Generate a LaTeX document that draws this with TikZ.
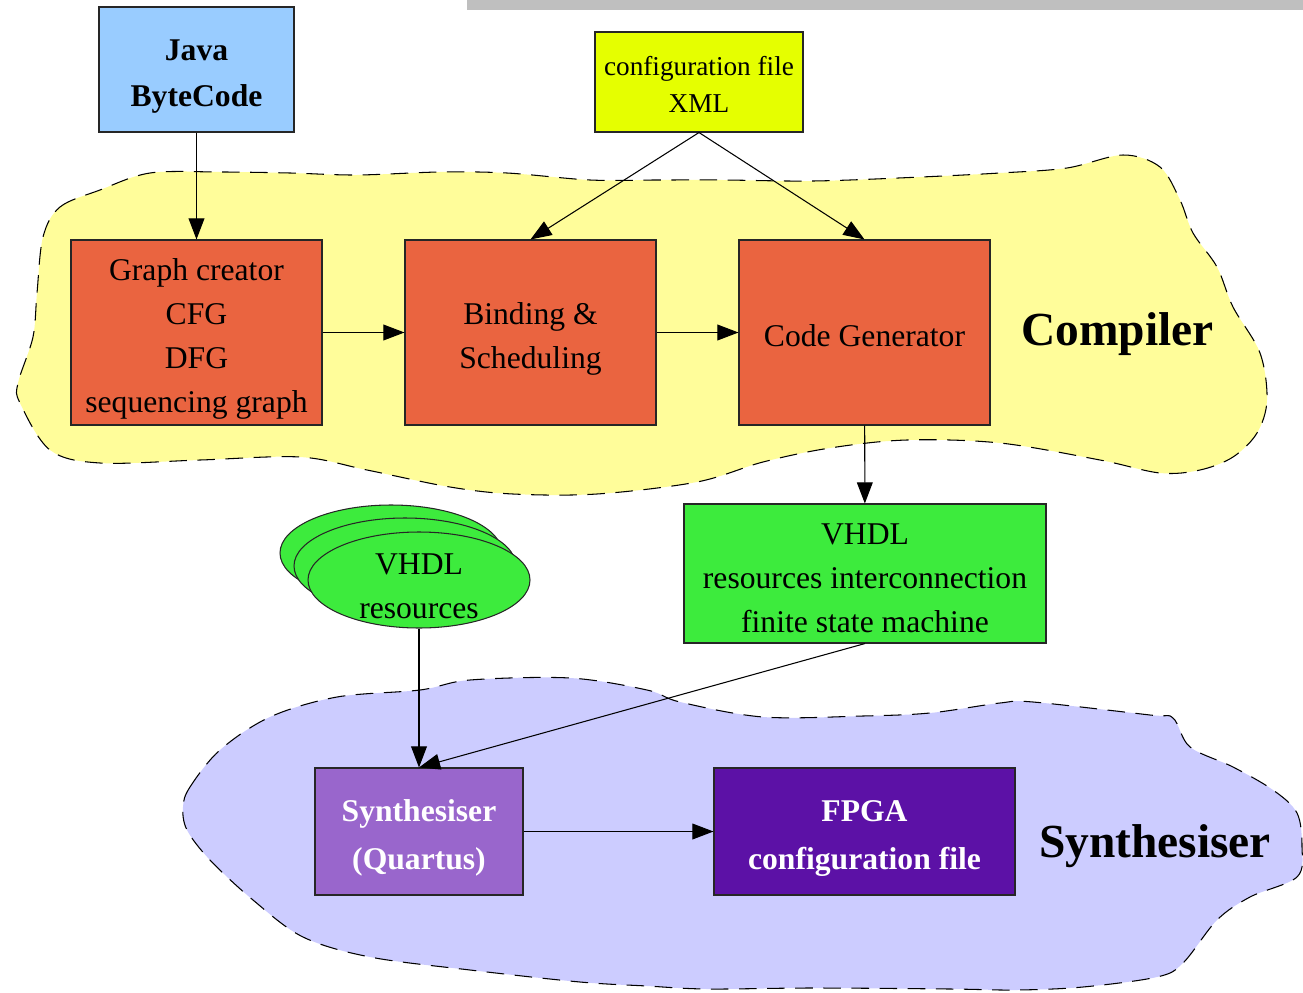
\documentclass[tikz,border=0pt]{standalone}
\usepackage{fontspec}
\setmainfont{Liberation Serif}
\usetikzlibrary{arrows.meta,shapes.geometric}

\definecolor{compfill}{HTML}{FFFD9A}
\definecolor{synfill}{HTML}{CCCCFF}
\definecolor{javablue}{HTML}{99CCFF}
\definecolor{xmlyellow}{HTML}{E5FF00}
\definecolor{steporange}{HTML}{EA6440}
\definecolor{vhdlgreen}{HTML}{3DEB3D}
\definecolor{quartpurple}{HTML}{9966CC}
\definecolor{fpgapurple}{HTML}{5C11A6}
\newcommand{\boxstrut}[1]{\rule{0pt}{#1}}

\begin{document}
\begin{tikzpicture}[>={Triangle[length=12pt,width=9pt]},line width=0.6pt,
    every node/.style={font=\fontsize{18}{25}\selectfont},
    box/.style={draw=black!85,inner sep=0pt,align=center},
    blob/.style={draw,dash pattern=on 10pt off 6pt}]
    \useasboundingbox (0,0) rectangle (26.06,-19.86);
    \fill[black!25] (9.34,0) rectangle (26.06,-0.2);
    \draw[blob,fill=compfill] plot[smooth cycle,tension=0.55] coordinates {
        (0.86,-4.74) (1.2,-4.14) (2,-3.8) (3,-3.46) (4.4,-3.44) (5.8,-3.46)
        (7.14,-3.5) (8.8,-3.44) (10.14,-3.46) (11.8,-3.6) (13.14,-3.6)
        (14.46,-3.6) (16.26,-3.62) (18.2,-3.55) (20,-3.46) (21.34,-3.36)
        (22.46,-3.1) (23.2,-3.34) (23.6,-4) (23.86,-4.66) (24.34,-5.34)
        (24.66,-6.14) (25.2,-7.06) (25.34,-8) (25.14,-8.66) (24.66,-9.14)
        (24,-9.4) (23.2,-9.46) (22,-9.2) (20,-8.86) (18.14,-8.8) (16.6,-8.96)
        (15.26,-9.24) (13.94,-9.64) (11.94,-9.88) (10.26,-9.88) (9,-9.74)
        (7.34,-9.4) (6,-9.14) (4,-9.2) (2,-9.26) (1,-9) (0.4,-8.06)
        (0.36,-7.66) (0.66,-6.74) (0.74,-5.86)};
    \draw[blob,fill=synfill] plot[smooth cycle,tension=0.55] coordinates {
        (3.66,-16.14) (3.8,-15.74) (4.4,-15) (5.4,-14.34) (6.74,-13.94)
        (8.4,-13.8) (9.4,-13.6) (11.4,-13.56) (12.94,-13.8) (13.6,-14.04)
        (15.26,-14.34) (17.26,-14.32) (18.6,-14.26) (20,-14.06) (20.66,-14.04)
        (23,-14.3) (23.46,-14.36) (23.8,-14.94) (24.66,-15.34) (25.46,-15.8)
        (25.94,-16.26) (26.04,-16.94) (25.94,-17.54) (25,-17.94) (24.34,-18.4)
        (23.66,-19.26) (23.14,-19.54) (21.66,-19.74) (20.34,-19.8) (19,-19.78)
        (16.26,-19.76) (14.14,-19.78) (12.94,-19.72) (11.6,-19.64) (9.4,-19.4)
        (7.4,-19.14) (6.06,-18.74) (5.06,-18) (4.2,-17.2) (3.74,-16.6)};
    \node[box,fill=javablue,minimum width=3.9cm,minimum height=2.5cm,font=\fontsize{18}{26.5}\selectfont\bfseries] (v1) at (3.93,-1.39) {\boxstrut{20pt}Java\\ByteCode};
    \node[box,fill=xmlyellow,minimum width=4.16cm,minimum height=2cm,font=\fontsize{15.5}{21}\selectfont] (v2) at (13.98,-1.64) {\boxstrut{14pt}configuration file\\XML};
    \node[box,fill=steporange,minimum width=5.02cm,minimum height=3.7cm] (v3) at (3.93,-6.65) {\boxstrut{20pt}Graph creator\\CFG\\DFG\\sequencing graph};
    \node[box,fill=steporange,minimum width=5.02cm,minimum height=3.7cm] (v4) at (10.61,-6.65) {\boxstrut{20pt}Binding \&\\Scheduling};
    \node[box,fill=steporange,minimum width=5.02cm,minimum height=3.7cm] (v5) at (17.29,-6.65) {\boxstrut{16pt}Code Generator};
    \node[font=\fontsize{27}{30}\selectfont\bfseries,anchor=base] (l1) at (22.35,-6.9) {Compiler};
    \node[box,fill=vhdlgreen,minimum width=7.24cm,minimum height=2.78cm] (v6) at (17.3,-11.47) {\boxstrut{17.5pt}VHDL\\resources interconnection\\finite state machine};
    \node[box,ellipse,fill=vhdlgreen,minimum width=4.44cm,minimum height=1.92cm,inner ysep=-6pt] (e1) at (7.82,-11.06) {};
    \node[box,ellipse,fill=vhdlgreen,minimum width=4.44cm,minimum height=1.92cm,inner ysep=-6pt] (e2) at (8.1,-11.32) {};
    \node[box,ellipse,fill=vhdlgreen,minimum width=4.44cm,minimum height=1.92cm,inner ysep=-6pt] (e3) at (8.38,-11.6) {\boxstrut{18.5pt}VHDL\\resources};
    \node[box,fill=quartpurple,text=white,minimum width=4.16cm,minimum height=2.54cm,font=\fontsize{18}{27}\selectfont\bfseries] (v7) at (8.38,-16.63) {\boxstrut{20pt}Synthesiser\\(Quartus)};
    \node[box,fill=fpgapurple,text=white,minimum width=6.02cm,minimum height=2.54cm,font=\fontsize{18}{27}\selectfont\bfseries] (v8) at (17.29,-16.63) {\boxstrut{20pt}FPGA\\configuration file};
    \node[font=\fontsize{27}{30}\selectfont\bfseries,anchor=base] (l2) at (23.1,-17.14) {Synthesiser};
    \draw[->] (v1) -- (v3);
    \draw[->] (v2.south) -- (v4.north);
    \draw[->] (v2.south) -- (v5.north);
    \draw[->] (v3) -- (v4);
    \draw[->] (v4) -- (v5);
    \draw[->] (v5) -- (v6);
    \draw[->] (e3.south) -- (v7.north);
    \draw[->] (v6.south) -- (v7.north);
    \draw[->] (v7) -- (v8);
\end{tikzpicture}
\end{document}
